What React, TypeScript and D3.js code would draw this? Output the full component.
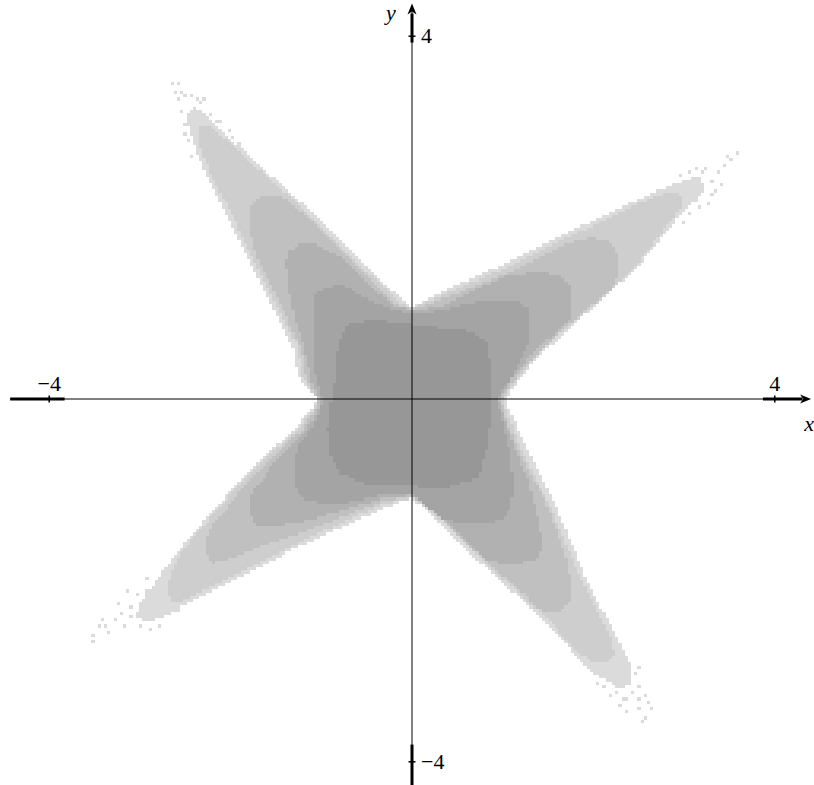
import React, { useMemo } from 'react';
import * as d3 from 'd3';

type Pt = [number, number];

// Density contour outlines in plot units, from the lowest density band (outermost) to the highest.
const outlineLevel1: Pt[] = [
  [0.00, 1.01], [0.36, 1.20], [0.99, 1.48], [1.83, 1.89], [2.71, 2.30], [3.15, 2.46], [3.24, 2.35], [3.14, 2.19],
  [2.98, 2.05], [2.49, 1.46], [1.69, 0.73], [1.39, 0.46], [1.19, 0.23], [1.03, -0.01], [1.21, -0.43], [1.58, -1.17],
  [1.94, -2.02], [2.32, -2.75], [2.43, -2.97], [2.43, -3.12], [2.29, -3.19], [1.98, -3.01], [1.39, -2.38], [0.66, -1.72],
  [0.33, -1.39], [0.00, -1.09], [-0.30, -1.20], [-1.21, -1.61], [-2.14, -2.08], [-2.50, -2.27], [-2.72, -2.39],
  [-2.91, -2.46], [-3.04, -2.40], [-3.00, -2.25], [-2.83, -2.03], [-2.72, -1.86], [-2.50, -1.58], [-1.92, -0.92],
  [-1.26, -0.29], [-1.04, -0.01], [-1.26, 0.25], [-1.31, 0.57], [-1.82, 1.57], [-2.23, 2.38], [-2.43, 2.88],
  [-2.49, 3.10], [-2.41, 3.23], [-2.30, 3.16], [-1.79, 2.67], [-1.09, 2.05], [-0.39, 1.35], [-0.13, 1.12],
];

const outlineLevel2: Pt[] = [
  [0.00, 1.00], [0.37, 1.16], [1.00, 1.43], [1.84, 1.84], [2.51, 2.16], [2.82, 2.28], [2.95, 2.27], [3.00, 2.17],
  [2.91, 2.04], [2.59, 1.63], [2.45, 1.44], [2.08, 1.09], [1.64, 0.73], [1.35, 0.45], [1.15, 0.21], [1.00, -0.01],
  [1.16, -0.45], [1.52, -1.19], [1.89, -2.04], [2.07, -2.40], [2.21, -2.66], [2.23, -2.82], [2.16, -2.91],
  [1.98, -2.92], [1.82, -2.77], [1.42, -2.36], [0.69, -1.70], [0.36, -1.37], [0.02, -1.09], [-0.32, -1.16],
  [-1.23, -1.57], [-2.16, -2.04], [-2.52, -2.23], [-2.65, -2.25], [-2.69, -2.13], [-2.67, -1.94], [-2.55, -1.69],
  [-1.89, -0.92], [-1.22, -0.29], [-1.04, -0.04], [-1.21, 0.26], [-1.27, 0.60], [-1.52, 1.08], [-1.78, 1.59],
  [-2.00, 2.07], [-2.18, 2.40], [-2.29, 2.66], [-2.36, 2.86], [-2.34, 2.99], [-2.25, 3.02], [-2.13, 2.93],
  [-1.82, 2.64], [-1.12, 2.03], [-0.75, 1.65], [-0.44, 1.35], [-0.15, 1.07],
];

const outlineLevel3: Pt[] = [
  [0.00, 0.99], [0.47, 1.15], [1.03, 1.38], [1.39, 1.55], [1.72, 1.71], [1.96, 1.78], [2.14, 1.75], [2.24, 1.66],
  [2.28, 1.51], [2.27, 1.35], [2.21, 1.22], [2.08, 1.12], [1.64, 0.75], [1.35, 0.47], [1.15, 0.24], [0.98, -0.01],
  [1.05, -0.29], [1.23, -0.67], [1.46, -1.11], [1.62, -1.50], [1.72, -1.83], [1.76, -2.11], [1.74, -2.25],
  [1.66, -2.33], [1.47, -2.34], [1.33, -2.28], [1.27, -2.17], [0.87, -1.84], [0.53, -1.52], [0.20, -1.20],
  [0.01, -1.08], [-0.30, -1.12], [-0.74, -1.29], [-1.23, -1.48], [-1.68, -1.63], [-2.06, -1.78], [-2.20, -1.81],
  [-2.26, -1.72], [-2.26, -1.50], [-2.20, -1.39], [-2.12, -1.31], [-1.87, -0.97], [-1.55, -0.65], [-1.20, -0.33],
  [-1.03, -0.03], [-1.15, 0.18], [-1.22, 0.54], [-1.37, 0.87], [-1.53, 1.20], [-1.69, 1.53], [-1.78, 1.81],
  [-1.80, 2.03], [-1.76, 2.16], [-1.68, 2.23], [-1.51, 2.25], [-1.38, 2.21], [-1.22, 2.06], [-0.75, 1.60],
  [-0.45, 1.30], [-0.18, 1.05],
];

const outlineLevel4: Pt[] = [
  [0.00, 0.97], [0.36, 1.03], [0.69, 1.20], [1.03, 1.35], [1.41, 1.40], [1.63, 1.36], [1.73, 1.26], [1.76, 1.09],
  [1.74, 0.89], [1.64, 0.79], [1.52, 0.68], [1.30, 0.47], [1.11, 0.24], [0.96, -0.01], [1.03, -0.23], [1.14, -0.56],
  [1.28, -0.89], [1.37, -1.22], [1.42, -1.50], [1.43, -1.66], [1.36, -1.78], [1.19, -1.81], [0.97, -1.81],
  [0.80, -1.78], [0.71, -1.68], [0.37, -1.35], [0.20, -1.17], [0.00, -1.06], [-0.30, -1.09], [-0.74, -1.22],
  [-1.23, -1.36], [-1.57, -1.41], [-1.71, -1.40], [-1.78, -1.28], [-1.78, -1.06], [-1.72, -0.95], [-1.62, -0.87],
  [-1.53, -0.69], [-1.19, -0.37], [-1.07, -0.18], [-1.00, -0.02], [-1.11, 0.20], [-1.18, 0.54], [-1.29, 0.87],
  [-1.36, 1.20], [-1.39, 1.51], [-1.35, 1.64], [-1.23, 1.71], [-1.07, 1.72], [-0.96, 1.64], [-0.79, 1.58],
  [-0.44, 1.23], [-0.19, 1.03],
];

const outlineLevel5: Pt[] = [
  [0.00, 0.94], [0.31, 0.97], [0.64, 1.06], [0.97, 1.10], [1.17, 1.09], [1.28, 1.00], [1.31, 0.82], [1.28, 0.60],
  [1.19, 0.41], [1.08, 0.21], [0.94, 0.01], [0.99, -0.23], [1.08, -0.56], [1.11, -0.89], [1.10, -1.17],
  [1.03, -1.31], [0.86, -1.37], [0.53, -1.37], [0.31, -1.31], [0.14, -1.17], [0.00, -1.04], [-0.30, -1.05],
  [-0.74, -1.15], [-1.01, -1.15], [-1.23, -1.09], [-1.30, -0.95], [-1.30, -0.67], [-1.26, -0.51], [-1.17, -0.41],
  [-1.06, -0.23], [-0.97, -0.02], [-1.06, 0.21], [-1.09, 0.54], [-1.10, 0.98], [-1.07, 1.15], [-0.96, 1.23],
  [-0.79, 1.26], [-0.66, 1.20], [-0.52, 1.11], [-0.24, 1.00],
];

const outlineLevel6: Pt[] = [
  [-0.71, 0.84], [-0.39, 0.87], [0.01, 0.82], [0.34, 0.78], [0.69, 0.74], [0.84, 0.60], [0.89, 0.21], [0.88, -0.15],
  [0.83, -0.53], [0.73, -0.87], [0.39, -0.97], [-0.02, -0.96], [-0.50, -0.94], [-0.79, -0.83], [-0.90, -0.62],
  [-0.93, -0.34], [-0.89, -0.01], [-0.85, 0.21], [-0.82, 0.57],
];

const densityLevels: Pt[][] = [outlineLevel1, outlineLevel2, outlineLevel3, outlineLevel4, outlineLevel5, outlineLevel6];
const levelShades = ['#dbdbdb', '#cecece', '#c0c0c0', '#b1b1b1', '#a4a4a4', '#979797'];

// Isolated low-density cells scattered beyond the arm tips.
const sparseTipCells: Pt[] = [
  [-2.64, 3.48], [-2.59, 3.47], [-2.61, 3.37], [-2.54, 3.37], [-2.50, 3.33], [-2.38, 3.30], [-2.33, 3.26],
  [-2.23, 3.12], [-2.50, 3.02], [-2.46, 2.86], [-1.98, 2.88], [-2.17, 3.07], [-2.58, 3.32], [-2.43, 3.35],
  [-2.28, 3.30], [-2.12, 3.05], [-2.03, 2.97], [-1.92, 2.83], [-2.55, 3.16], [-2.51, 2.93], [-2.43, 2.69],
  [3.58, 2.72], [3.37, 2.49], [3.31, 2.39], [3.31, 2.25], [3.07, 2.50], [3.20, 2.51], [3.45, 2.58], [3.40, 2.38],
  [3.29, 2.16], [3.18, 2.11], [2.97, 2.48], [3.48, 2.66], [3.23, 2.52], [3.12, 2.55], [3.51, 2.64], [3.34, 2.30],
  [3.07, 2.06], [3.01, 1.95],
  [2.57, -3.51], [2.65, -3.43], [2.51, -3.43], [2.49, -3.32], [2.38, -3.30], [2.43, -3.23], [2.24, -3.23],
  [2.47, -3.04], [2.51, -3.16], [2.13, -3.16], [2.32, -3.32], [2.60, -3.35], [2.57, -3.26], [2.54, -3.54],
  [2.18, -3.26], [2.29, -3.37], [2.38, -3.45], [2.49, -2.97], [2.05, -3.12],
  [-3.52, -2.68], [-3.51, -2.62], [-3.44, -2.52], [-3.37, -2.51], [-3.27, -2.44], [-3.22, -2.38], [-3.11, -2.30],
  [-3.09, -2.41], [-3.00, -2.52], [-2.91, -2.39], [-2.89, -2.22], [-2.94, -2.11], [-2.58, -2.34], [-3.33, -2.57],
  [-3.16, -2.49], [-3.24, -2.27], [-3.02, -2.16], [-2.89, -2.55], [-2.78, -2.49], [-3.40, -2.44], [-3.13, -2.11],
  [-2.94, -1.97],
];

const tickValues = [-4, 4];
const tickLabels = ['\u22124', '4'];
const xAxisExtent: [number, number] = [-4.43, 4.4];
const yAxisExtent: [number, number] = [-4.3, 4.36];
const xAxisHeavy: [number, number][] = [[-4.43, -3.83], [3.87, 4.3]];
const yAxisHeavy: [number, number][] = [[3.93, 4.25], [-4.3, -3.81]];

const WIDTH = 814;
const HEIGHT = 785;
const CX = 412;
const CY = 399;
const UNIT = 90.7;
const BIN = 0.035;
const FONT = '"Liberation Serif", "DejaVu Serif", serif';

export default function App() {
  const x = d3.scaleLinear().domain([-4, 4]).range([CX - 4 * UNIT, CX + 4 * UNIT]);
  const y = d3.scaleLinear().domain([-4, 4]).range([CY + 4 * UNIT, CY - 4 * UNIT]);

  const levelPaths = useMemo(() => {
    const lo = Math.floor(-4.5 / BIN);
    const hi = Math.ceil(4.5 / BIN);
    const n = hi - lo;
    const outer = densityLevels[0];
    const [bx0, bx1] = d3.extent(outer, (d) => d[0]) as [number, number];
    const [by0, by1] = d3.extent(outer, (d) => d[1]) as [number, number];
    const rows: Int8Array[] = [];
    for (let j = 0; j < n; j++) {
      const row = new Int8Array(n);
      const cy = (j + lo + 0.5) * BIN;
      if (cy >= by0 && cy <= by1) {
        for (let i = 0; i < n; i++) {
          const cx = (i + lo + 0.5) * BIN;
          if (cx < bx0 || cx > bx1) continue;
          const p: Pt = [cx, cy];
          if (!d3.polygonContains(outer, p)) continue;
          let lvl = 1;
          for (let k = densityLevels.length - 1; k >= 1; k--) {
            if (d3.polygonContains(densityLevels[k], p)) {
              lvl = k + 1;
              break;
            }
          }
          row[i] = lvl;
        }
      }
      rows.push(row);
    }
    sparseTipCells.forEach(([px, py]) => {
      const i = Math.floor(px / BIN) - lo;
      const j = Math.floor(py / BIN) - lo;
      if (rows[j] && rows[j][i] === 0) rows[j][i] = 1;
    });
    const parts: string[][] = levelShades.map(() => []);
    for (let j = 0; j < n; j++) {
      const row = rows[j];
      const yTop = y((j + lo + 1) * BIN);
      const yBot = y((j + lo) * BIN);
      let i = 0;
      while (i < n) {
        const v = row[i];
        if (v === 0) {
          i++;
          continue;
        }
        let k = i + 1;
        while (k < n && row[k] === v) k++;
        const x0 = x((i + lo) * BIN);
        const x1 = x((k + lo) * BIN);
        parts[v - 1].push(`M${x0.toFixed(2)},${yTop.toFixed(2)}H${x1.toFixed(2)}V${yBot.toFixed(2)}H${x0.toFixed(2)}Z`);
        i = k;
      }
    }
    return parts.map((p) => p.join(''));
  }, []);

  const xEnd = x(xAxisExtent[1]);
  const yEnd = y(yAxisExtent[1]);

  return (
    <svg
      width={WIDTH}
      height={HEIGHT}
      viewBox={`0 0 ${WIDTH} ${HEIGHT}`}
      style={{ position: 'absolute', left: 0, top: 0, background: '#fff', display: 'block' }}
    >
      <g shapeRendering="crispEdges">
        {levelPaths.map((d, k) => (
          <path key={k} d={d} fill={levelShades[k]} />
        ))}
      </g>

      {/* axes */}
      <line x1={x(xAxisExtent[0])} x2={xEnd - 6} y1={CY} y2={CY} stroke="#000" strokeWidth={1} />
      <line x1={CX} x2={CX} y1={y(yAxisExtent[0])} y2={yEnd + 6} stroke="#000" strokeWidth={1} />
      {xAxisHeavy.map(([a, b], i) => (
        <line key={`xh${i}`} x1={x(a)} x2={x(b)} y1={CY} y2={CY} stroke="#000" strokeWidth={3} />
      ))}
      {yAxisHeavy.map(([a, b], i) => (
        <line key={`yh${i}`} x1={CX} x2={CX} y1={y(a)} y2={y(b)} stroke="#000" strokeWidth={3} />
      ))}
      <path
        d={`M${xEnd},${CY} L${xEnd - 11},${CY - 4.5} L${xEnd - 8},${CY} L${xEnd - 11},${CY + 4.5} Z`}
        fill="#000"
      />
      <path
        d={`M${CX},${yEnd} L${CX - 4.5},${yEnd + 11} L${CX},${yEnd + 8} L${CX + 4.5},${yEnd + 11} Z`}
        fill="#000"
      />

      {tickValues.map((v, i) => (
        <g key={`xt${i}`}>
          <line x1={x(v)} x2={x(v)} y1={CY - 3.5} y2={CY + 3.5} stroke="#000" strokeWidth={1.5} />
          <text x={x(v)} y={CY - 8} textAnchor="middle" fontFamily={FONT} fontSize={22}>
            {tickLabels[i]}
          </text>
        </g>
      ))}
      {tickValues.map((v, i) => (
        <g key={`yt${i}`}>
          <line x1={CX - 3.5} x2={CX + 3.5} y1={y(v)} y2={y(v)} stroke="#000" strokeWidth={1.5} />
          <text x={CX + 9} y={y(v) + 7} textAnchor="start" fontFamily={FONT} fontSize={22}>
            {tickLabels[i]}
          </text>
        </g>
      ))}

      <text x={xEnd - 2} y={CY + 32} textAnchor="middle" fontFamily={FONT} fontStyle="italic" fontSize={22}>
        x
      </text>
      <text x={CX - 21} y={yEnd + 16} textAnchor="middle" fontFamily={FONT} fontStyle="italic" fontSize={22}>
        y
      </text>
    </svg>
  );
}
